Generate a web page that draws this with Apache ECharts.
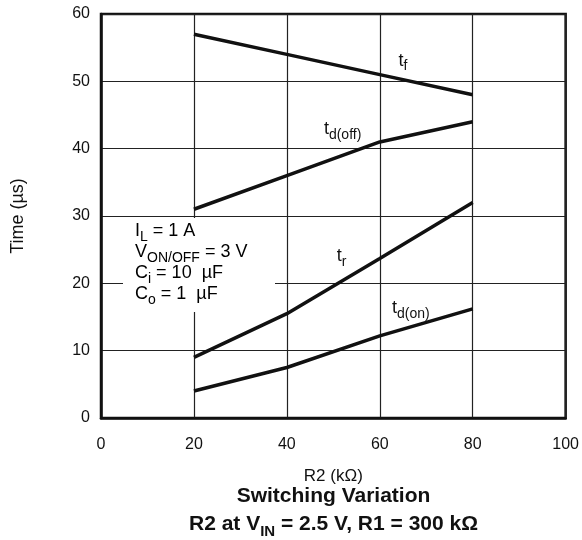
<!DOCTYPE html>
<html>
<head>
<meta charset="utf-8">
<script src="https://cdn.jsdelivr.net/npm/echarts@6/dist/echarts.min.js"></script>
<style>html,body{margin:0;padding:0;background:#fff;}#c{width:582px;height:540px;}</style>
</head>
<body>
<div id="c"></div>
<script>
const r2 = [20, 40, 60, 80];
const tF = [57, 54, 51, 48];
const tDoff = [31, 36, 41, 44];
const tR = [9, 15.5, 23.7, 32];
const tDon = [4, 7.5, 12.2, 16.2];
const xTicks = [0, 20, 40, 60, 80, 100];
const yTicks = [0, 10, 20, 30, 40, 50, 60];

const FONT = 'Liberation Sans, Arial, Helvetica, sans-serif';
const rich = {
  b: {fontSize: 18, fontFamily: FONT, color: '#111', lineHeight: 21, verticalAlign: 'bottom'},
  s: {fontSize: 14, fontFamily: FONT, color: '#111', lineHeight: 8, verticalAlign: 'bottom', padding: [0, 0, -4, 0]}
};

function mkSeries(name, ys, labelSub, labelCoord) {
  return {
    type: 'line', name: name,
    data: r2.map((x, i) => [x, ys[i]]),
    symbol: 'none', z: 5,
    lineStyle: {color: '#111', width: 3.5},
    markPoint: {
      symbol: 'circle', symbolSize: 0, silent: true,
      data: [{coord: labelCoord}],
      label: {show: true, position: 'inside', formatter: '{b|t}{s|' + labelSub + '}', rich: rich}
    }
  };
}

const chart = echarts.init(document.getElementById('c'));
chart.setOption({
  animation: false,
  backgroundColor: '#fff',
  grid: {left: 101, right: 15, top: 14, bottom: 122, show: true, borderColor: '#111', borderWidth: 2.5},
  xAxis: {
    type: 'value', min: 0, max: 100, interval: 20,
    name: 'R2 (kΩ)', nameLocation: 'middle', nameGap: 50,
    nameTextStyle: {fontSize: 17, fontFamily: FONT, color: '#111'},
    axisLine: {lineStyle: {color: '#111', width: 2.5}},
    axisTick: {show: false},
    axisLabel: {fontSize: 16, fontFamily: FONT, color: '#111', margin: 19},
    splitLine: {lineStyle: {color: '#222', width: 1.2}}
  },
  yAxis: {
    type: 'value', min: 0, max: 60, interval: 10,
    name: 'Time (µs)', nameLocation: 'middle', nameGap: 74,
    nameTextStyle: {fontSize: 18, fontFamily: FONT, color: '#111'},
    axisLine: {lineStyle: {color: '#111', width: 2.5}},
    axisTick: {show: false},
    axisLabel: {fontSize: 16, fontFamily: FONT, color: '#111', margin: 11},
    splitLine: {lineStyle: {color: '#222', width: 1.2}}
  },
  title: {
    left: 333.5, textAlign: 'center', top: 479, padding: 0,
    text: '{t|Switching Variation}\n{t|R2 at V}{ts|IN}{t| = 2.5 V, R1 = 300 kΩ}',
    textStyle: {
      rich: {
        t: {fontSize: 21, fontWeight: 'bold', fontFamily: FONT, color: '#111', lineHeight: 28, verticalAlign: 'bottom'},
        ts: {fontSize: 15, fontWeight: 'bold', fontFamily: FONT, color: '#111', lineHeight: 10, verticalAlign: 'bottom', padding: [0, 0, -4, 0]}
      }
    }
  },
  graphic: [
    {type: 'rect', z: 1, silent: true, shape: {x: 123, y: 218, width: 152, height: 94}, style: {fill: '#fff'}},
    {type: 'text', z: 3, silent: true, left: 135, top: 222,
      style: {
        text: '{b|I}{s|L}{b| = 1 A}\n{b|V}{s|ON/OFF}{b| = 3 V}\n{b|C}{s|i}{b| = 10  µF}\n{b|C}{s|o}{b| = 1  µF}',
        rich: rich
      }
    }
  ],
  series: [
    mkSeries('tf', tF, 'f', [65, 53.3]),
    mkSeries('td(off)', tDoff, 'd(off)', [52, 43.1]),
    mkSeries('tr', tR, 'r', [51.8, 24.3]),
    mkSeries('td(on)', tDon, 'd(on)', [66.7, 16.6])
  ]
});
</script>
</body>
</html>
